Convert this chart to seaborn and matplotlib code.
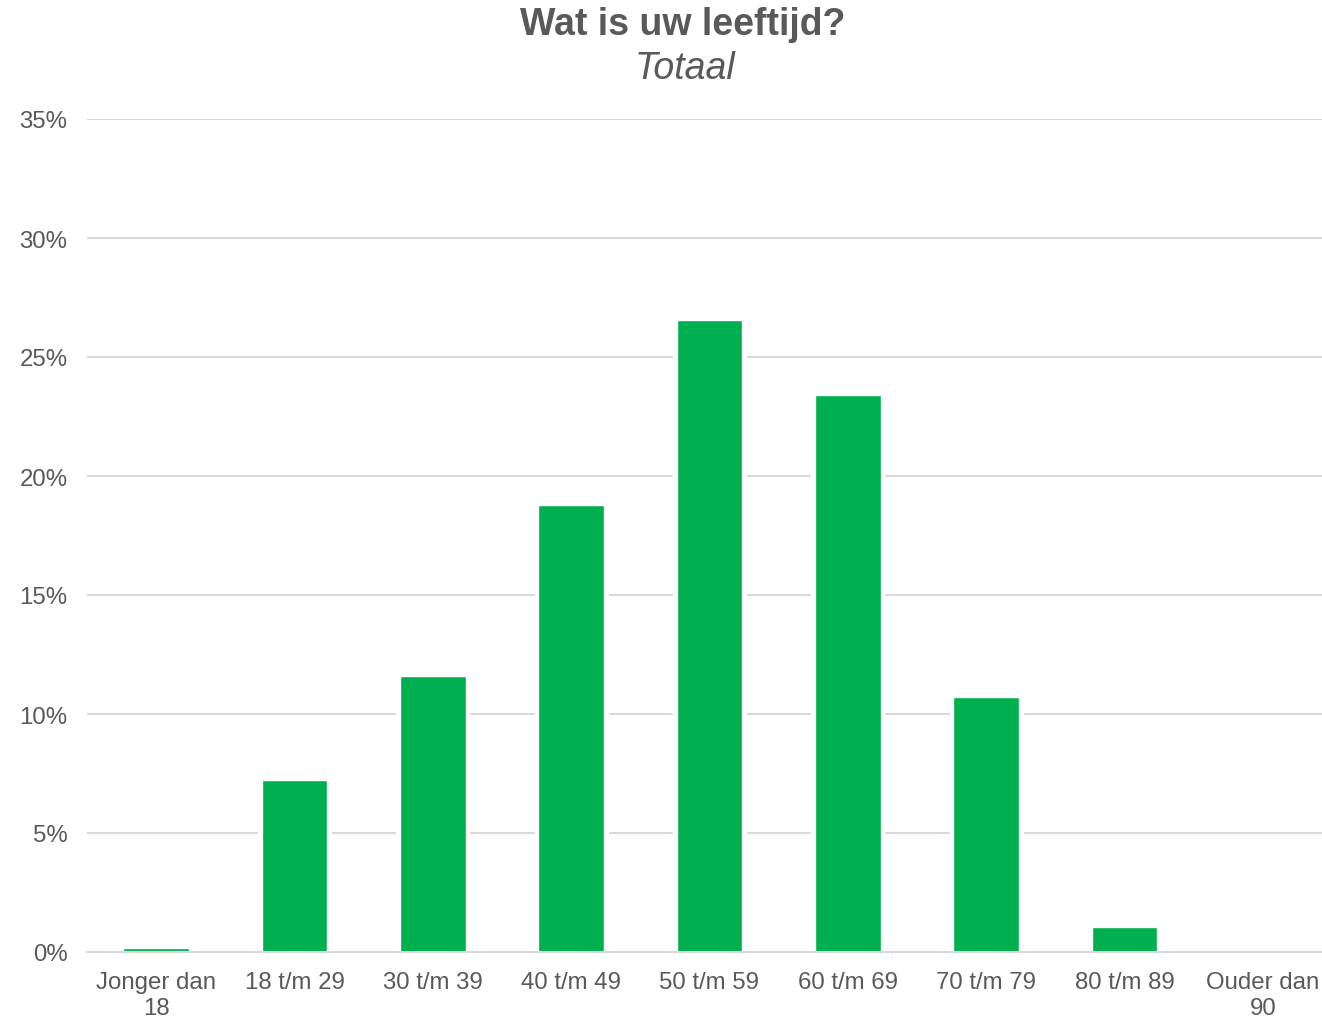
import matplotlib
matplotlib.use("Agg")
import matplotlib.pyplot as plt
import seaborn as sns
import pandas as pd
import numpy as np

categories = ["Jonger dan\n18", "18 t/m 29", "30 t/m 39", "40 t/m 49", "50 t/m 59",
              "60 t/m 69", "70 t/m 79", "80 t/m 89", "Ouder dan\n90"]
values = [0.15, 7.23, 11.6, 18.78, 26.55, 23.4, 10.71, 1.05, 0.0]
yticks = [0, 5, 10, 15, 20, 25, 30, 35]
ytick_labels = ["0%", "5%", "10%", "15%", "20%", "25%", "30%", "35%"]

df = pd.DataFrame({"cat": categories, "val": values})

sns.set_style("white")
plt.rcParams['font.family'] = ['Liberation Sans', 'DejaVu Sans']

TXT = "#595959"
GRID = "#D9D9D9"
GREEN = "#00B050"

fig = plt.figure(figsize=(13.22, 10.20), dpi=100)
ax = fig.add_axes([87/1322, 1-953/1020, 1245/1322, (953-120)/1020])

# white halo behind bars to interrupt gridlines
sns.barplot(data=df, x="cat", y="val", color="white", width=0.53, ax=ax,
            saturation=1, zorder=2)
sns.barplot(data=df, x="cat", y="val", color=GREEN, width=0.475, ax=ax,
            saturation=1, zorder=3)

ax.set_ylim(0, 35)
ax.set_xlim(-0.5, len(categories) - 0.5)
ax.set_yticks(yticks)
ax.set_yticklabels(ytick_labels)
ax.yaxis.grid(True, color=GRID, linewidth=1.5)
ax.set_axisbelow(True)
for g in ax.get_ygridlines():
    g.set_zorder(1)

for s in ["top", "right", "left"]:
    ax.spines[s].set_visible(False)
ax.spines["bottom"].set_color(GRID)
ax.spines["bottom"].set_linewidth(1.5)
ax.spines["bottom"].set_zorder(4)

ax.set_xticks(np.arange(-0.5, len(categories), 1.0), minor=True)
ax.tick_params(axis="x", which="minor", length=7, width=1.5, color=GRID, direction="out")
ax.tick_params(axis="x", which="major", length=0, pad=14, labelsize=17.3, labelcolor=TXT)
ax.tick_params(axis="y", length=0, pad=14, labelsize=17.3, labelcolor=TXT)
for lbl in ax.get_xticklabels():
    lbl.set_linespacing(1.2)

ax.set_xlabel("")
ax.set_ylabel("")

fig.text(683/1322, 1 - 25/1020, "Wat is uw leeftijd?", ha="center", va="center",
         fontsize=27, fontweight="bold", color=TXT)
fig.text(685/1322, 1 - 69/1020, "Totaal", ha="center", va="center",
         fontsize=27, fontstyle="italic", color=TXT)

fig.savefig("out.png", dpi=100)
